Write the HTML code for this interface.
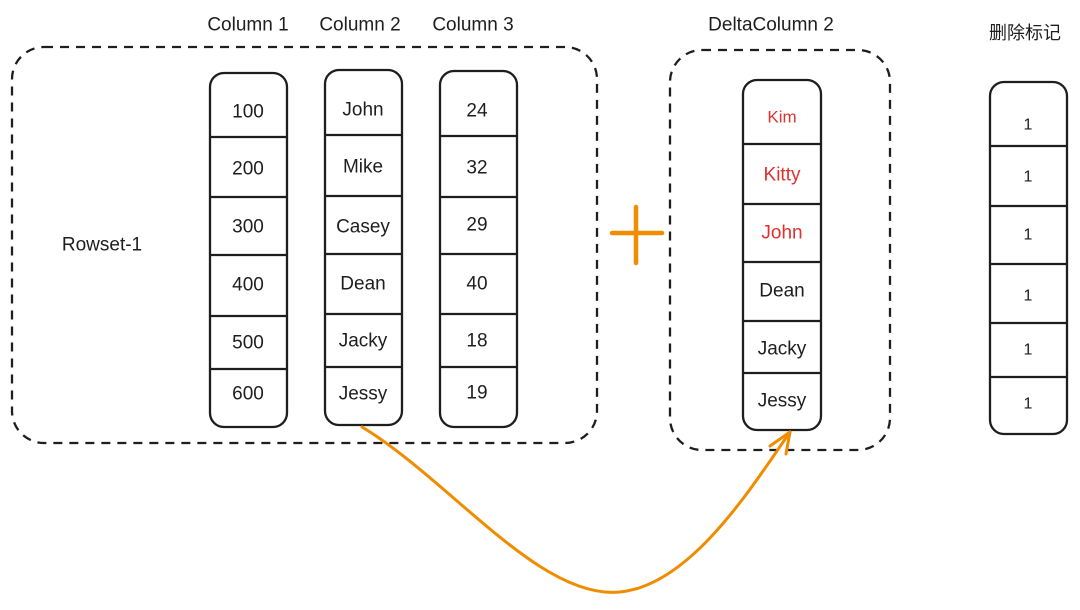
<!DOCTYPE html>
<html><head><meta charset="utf-8"><style>
body{margin:0;background:#fff}
text{font-family:"Liberation Sans","Noto Sans CJK SC",sans-serif;font-size:19px;fill:#1e1e1e;text-anchor:middle;dominant-baseline:central}
</style></head><body>
<svg width="1080" height="605" viewBox="0 0 1080 605">
<g fill="none" stroke="#1e1e1e" stroke-width="2.3">
<rect x="12" y="47" width="585" height="396" rx="32" stroke-dasharray="9 7"/>
<rect x="670" y="50" width="220" height="400" rx="32" stroke-dasharray="9 7"/>
<rect x="210" y="73" width="77" height="354" rx="14"/>
<rect x="325" y="70" width="77" height="355" rx="14"/>
<rect x="440" y="71" width="77" height="356" rx="14"/>
<rect x="743" y="80" width="78" height="350" rx="14"/>
<rect x="990" y="82" width="77" height="352" rx="14"/>
<path d="M210 137H287M210 197H287M210 255H287M210 316H287M210 369H287"/>
<path d="M325 135H402M325 196H402M325 254H402M325 314H402M325 367H402"/>
<path d="M440 136H517M440 197H517M440 254H517M440 314H517M440 367H517"/>
<path d="M743 144H821M743 204H821M743 262H821M743 321H821M743 373H821"/>
<path d="M990 146H1067M990 206H1067M990 264H1067M990 323H1067M990 377H1067"/>
</g>
<g stroke="#f08c00" stroke-width="3" fill="none" stroke-linecap="round">
<path d="M612 233H662M636 207V263" stroke-width="4.5"/>
<path d="M362 427C450 480 540 600 620 592C690 585 750 490 790 432"/>
<path d="M790 432L770 446M790 432L786 454"/>
</g>
<text x="248" y="25">Column 1</text>
<text x="360" y="25">Column 2</text>
<text x="473" y="25">Column 3</text>
<text x="771" y="25">DeltaColumn 2</text>
<text x="1025" y="33" style="font-size:18px">删除标记</text>
<text x="102" y="245">Rowset-1</text>
<g>
<text x="248" y="112">100</text><text x="248" y="169">200</text><text x="248" y="227">300</text><text x="248" y="285">400</text><text x="248" y="343">500</text><text x="248" y="394">600</text>
<text x="363" y="110">John</text><text x="363" y="167">Mike</text><text x="363" y="227">Casey</text><text x="363" y="284">Dean</text><text x="363" y="341">Jacky</text><text x="363" y="394">Jessy</text>
<text x="477" y="111">24</text><text x="477" y="168">32</text><text x="477" y="225">29</text><text x="477" y="284">40</text><text x="477" y="341">18</text><text x="477" y="393">19</text>
<text x="782" y="117" style="fill:#e03131;font-size:17px">Kim</text><text x="782" y="175" style="fill:#e03131">Kitty</text><text x="782" y="233" style="fill:#e03131">John</text>
<text x="782" y="291">Dean</text><text x="782" y="349">Jacky</text><text x="782" y="401">Jessy</text>
<text x="1028" y="125" style="font-size:16px">1</text><text x="1028" y="177" style="font-size:16px">1</text><text x="1028" y="235" style="font-size:16px">1</text><text x="1028" y="296" style="font-size:16px">1</text><text x="1028" y="350" style="font-size:16px">1</text><text x="1028" y="404" style="font-size:16px">1</text>
</g>
</svg>
</body></html>
